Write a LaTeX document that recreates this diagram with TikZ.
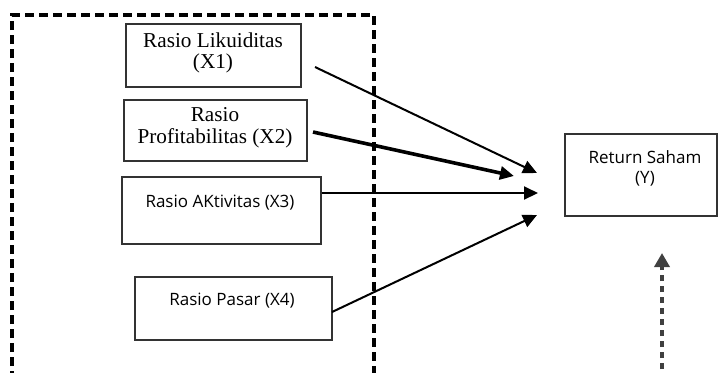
\documentclass[tikz,border=0pt]{standalone}
\usepackage{fontspec}
\setmainfont{Liberation Serif}
\newfontfamily\sansf{Open Sans}
\usetikzlibrary{arrows.meta,fit}
\tikzset{
  box/.style={draw=black!80, line width=0.6pt, inner sep=0pt},
  serift/.style={font=\fontsize{10.6}{13}\selectfont, inner sep=0pt, align=center},
  sanst/.style={font=\sansf\fontsize{8.5}{11}\selectfont, inner sep=0pt, align=center},
  conn/.style={line width=1pt, -{Triangle[length=7pt,width=6.5pt]}},
  thickconn/.style={line width=1.8pt, -{Triangle[length=7pt,width=6.5pt]}},
  frame/.style={line width=1.8pt, dash pattern=on 4.5pt off 2.5pt},
  vdash/.style={line width=1.8pt, draw=black!75, dash pattern=on 3.2pt off 2.3pt, -{Triangle[length=7pt,width=7.5pt]}}
}
\begin{document}
\begin{tikzpicture}[x=0.5pt,y=-0.5pt]
\useasboundingbox (0,0) rectangle (718,372);
\clip (0,0) rectangle (718,372);
\fill[white] (0,0) rectangle (718,372);
% dashed frame (open at bottom)
\draw[frame] (12,380) -- (12,15) -- (374,15) -- (374,380);
% boxes
\node[box, fit={(126,24) (301,87)}] (x1) {};
\node[box, fit={(124,100) (307,161)}] (x2) {};
\node[box, fit={(122,177) (321,244)}] (x3) {};
\node[box, fit={(135,277) (332,340)}] (x4) {};
\node[box, fit={(565,134) (717,216)}] (y) {};
% texts
\node[serift] (t1a) at (213,40) {Rasio Likuiditas};
\node[serift] (t1b) at (213,63) {(X1)};
\node[serift] (t2a) at (215,115) {Rasio};
\node[serift] (t2b) at (215,138) {Profitabilitas (X2)};
\node[sanst] (t3) at (220,203) {Rasio AKtivitas (X3)};
\node[sanst] (t4) at (232,301) {Rasio Pasar (X4)};
\node[sanst] (ty1) at (645,157) {Return Saham};
\node[sanst] (ty2) at (645,179) {(Y)};
% connector end points
\coordinate (s1) at (315,67);
\coordinate (e1) at (537,173);
\coordinate (s2) at (313,132);
\coordinate (e2) at (514,176);
\coordinate (e3) at (538,193);
\coordinate (s4) at (332,312);
\coordinate (e4) at (537,215);
\coordinate (vb) at (662,380);
\coordinate (vt) at (662,253);
% connectors
\draw[conn] (s1) -- (e1);
\draw[thickconn] (s2) -- (e2);
\draw[conn] (x3.east |- e3) -- (e3);
\draw[conn] (s4) -- (e4);
\draw[vdash] (vb) -- (vt);
\end{tikzpicture}
\end{document}
